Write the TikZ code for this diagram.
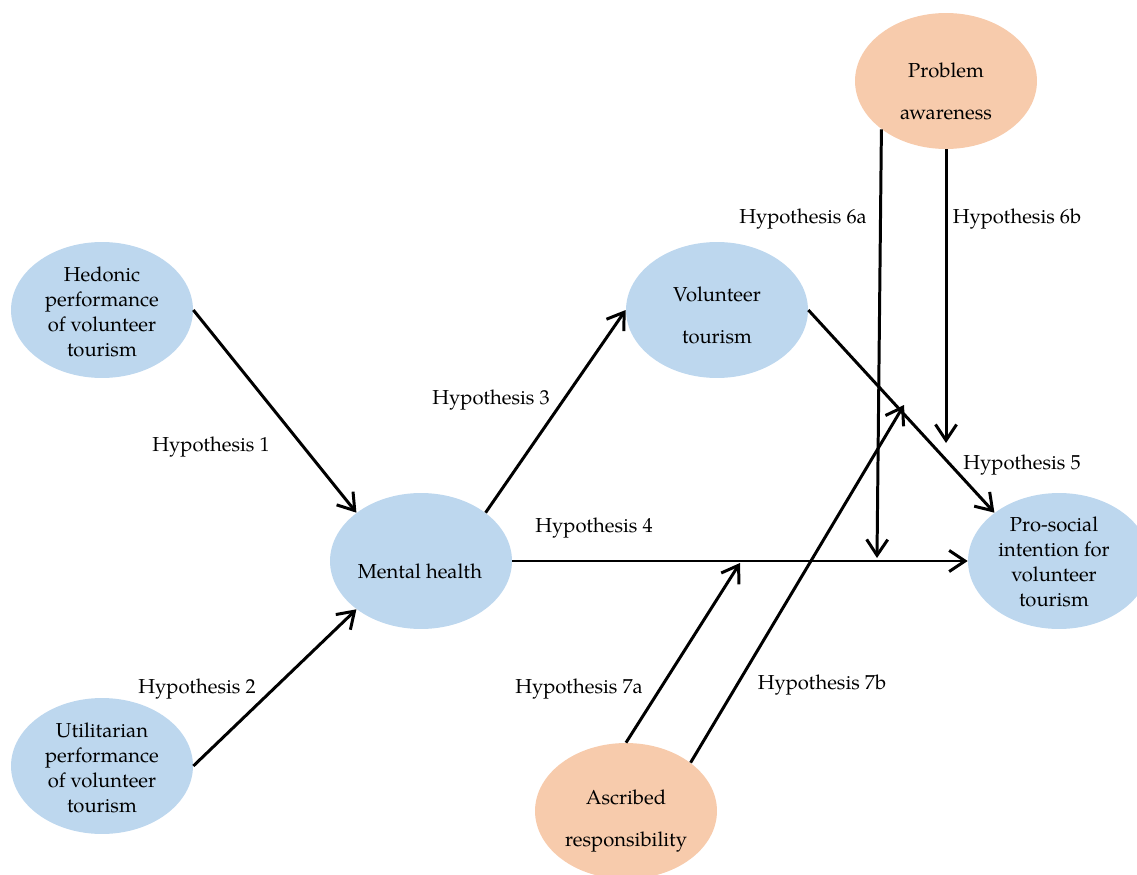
\documentclass[tikz,border=0pt]{standalone}
\usepackage{fontspec}
\setmainfont{TeX Gyre Pagella}
\usetikzlibrary{shapes.geometric,arrows.meta}
\definecolor{lblue}{RGB}{189,215,238}
\definecolor{lorange}{RGB}{247,203,172}
\begin{document}
\begin{tikzpicture}[x=0.02cm,y=-0.02cm,
  bub/.style={ellipse,draw=none,minimum width=3.64cm,minimum height=2.72cm,inner sep=0pt},
  bbub/.style={bub,fill=lblue},
  obub/.style={bub,fill=lorange},
  txt/.style={font=\fontsize{11.5}{14.2}\selectfont,align=center,inner sep=0pt},
  wide/.style={font=\fontsize{11.5}{24}\selectfont,align=center,inner sep=0pt},
  lab/.style={font=\fontsize{11.5}{14}\selectfont,inner sep=0pt},
  arr/.style={-{Straight Barb[length=9pt,width=12pt]},line width=1.7pt}]
\useasboundingbox (0,0) rectangle (1137,875);
% ellipses
\node[bbub] (hed) at (102,310) {};
\node[bbub] (uti) at (102,766) {};
\node[bbub] (mh) at (421,561) {};
\node[bbub] (vol) at (717,310) {};
\node[bbub] (ps) at (1059,561) {};
\node[obub] (pa) at (946,81) {};
\node[obub] (asc) at (626,811) {};
% texts
\node[txt] (thed) at (102,312) {Hedonic\\performance\\of volunteer\\tourism};
\node[txt] (tuti) at (102,768) {Utilitarian\\performance\\of volunteer\\tourism};
\node[txt] (tmh) at (420,571) {Mental health};
\node[wide] (tvol) at (717,315) {Volunteer\\tourism};
\node[txt] (tps) at (1054,562) {Pro-social\\intention for\\volunteer\\tourism};
\node[wide] (tpa) at (946,91) {Problem\\awareness};
\node[wide] (tasc) at (626,821) {Ascribed\\responsibility};
% free ends
\coordinate (e6a) at (877,558);
\coordinate (e6b) at (946,443);
\coordinate (e7a) at (740,563);
\coordinate (e7b) at (904,405);
% connectors
\draw[arr] (hed.east) -- (mh.north west);
\draw[arr] (uti.east) -- (mh.south west);
\draw[arr] (mh.north east) -- (vol.west);
\draw[arr] (mh.east) -- (ps.west);
\draw[arr] (vol.east) -- (ps.north west);
\draw[arr] (pa.south west) -- (e6a);
\draw[arr] (pa.south) -- (e6b);
\draw[arr] (asc.north) -- (e7a);
\draw[arr] (asc.north east) -- (e7b);
% labels
\node[lab] (h1) at (211,447) {Hypothesis 1};
\node[lab] (h2) at (197,689) {Hypothesis 2};
\node[lab] (h3) at (491,400) {Hypothesis 3};
\node[lab] (h4) at (594,528) {Hypothesis 4};
\node[lab] (h5) at (1022,465) {Hypothesis 5};
\node[lab] (h6a) at (803,219) {Hypothesis 6a};
\node[lab] (h6b) at (1017,219) {Hypothesis 6b};
\node[lab] (h7a) at (579,689) {Hypothesis 7a};
\node[lab] (h7b) at (822,685) {Hypothesis 7b};
\end{tikzpicture}
\end{document}
